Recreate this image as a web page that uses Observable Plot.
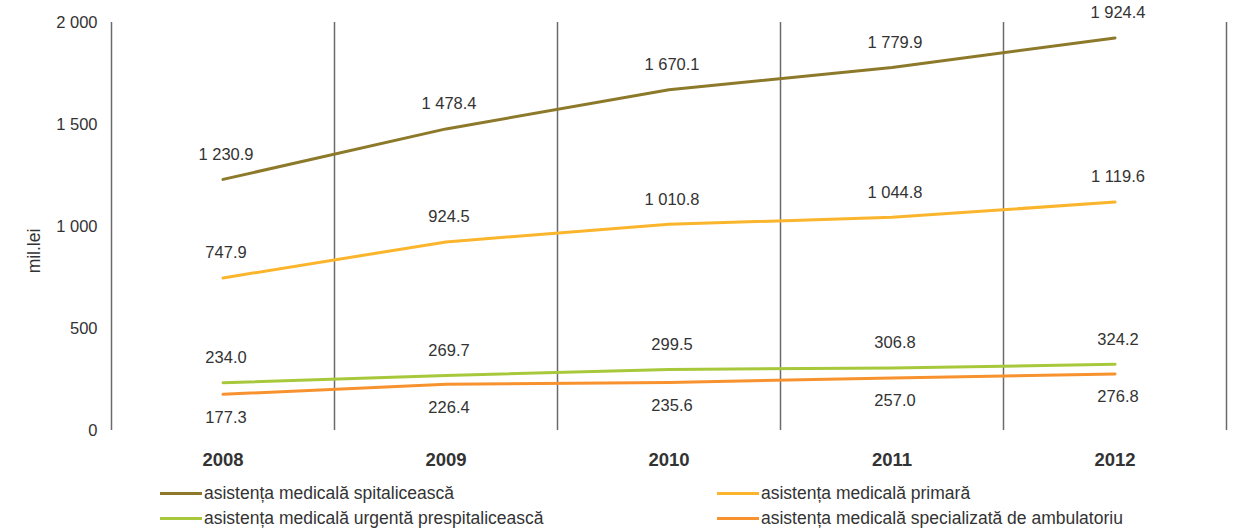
<!DOCTYPE html>
<html>
<head>
<meta charset="utf-8">
<script src="https://cdn.jsdelivr.net/npm/d3@7"></script>
<script src="https://cdn.jsdelivr.net/npm/@observablehq/plot@0.6"></script>
<style>
  body { margin: 0; background: #fff; font-family: "Liberation Sans", Arial, sans-serif; }
  #chart { position: relative; width: 1233px; height: 480px; }
  #ylabel { position: absolute; left: 35px; top: 251px; transform: translate(-50%, -50%) rotate(-90deg); font-size: 17.5px; color: #333; white-space: nowrap; line-height: 1; }
  #legend { position: relative; width: 1233px; height: 49px; font-size: 17.5px; color: #333; }
  .item { position: absolute; display: flex; align-items: center; white-space: nowrap; line-height: 20px; }
  .sw { width: 42px; height: 3px; margin-right: 2px; }
  #chart svg g[aria-label="x-axis tick label"] { font-size: 18.5px; font-weight: bold; }
  #chart svg g[aria-label="y-axis tick label"] { font-size: 16.5px; }
</style>
</head>
<body>
<div id="chart"><span id="ylabel"></span></div>
<div id="legend"></div>
<script>
const years = [2008, 2009, 2010, 2011, 2012];
const seriesNames = [
  "asistența medicală spitalicească",
  "asistența medicală primară",
  "asistența medicală urgentă prespitalicească",
  "asistența medicală specializată de ambulatoriu"
];
const spitaliceasca = [1230.9, 1478.4, 1670.1, 1779.9, 1924.4];
const primara = [747.9, 924.5, 1010.8, 1044.8, 1119.6];
const urgenta = [234.0, 269.7, 299.5, 306.8, 324.2];
const ambulatoriu = [177.3, 226.4, 235.6, 257.0, 276.8];
const colors = ["#8c7a2a", "#fbb52c", "#a8c83c", "#f7922e"];
const labelBelow = [false, false, false, true];
const yTicks = [0, 500, 1000, 1500, 2000];
const yLabel = "mil.lei";
// legend layout: [row, column] per series
const legendSlots = [[0, 0], [0, 1], [1, 0], [1, 1]];

const allSeries = [spitaliceasca, primara, urgenta, ambulatoriu];
const data = [];
allSeries.forEach((vals, i) => vals.forEach((v, j) => data.push({year: years[j], value: v, series: seriesNames[i], below: labelBelow[i]})));
const boundaries = years.map(y => y - 0.5).concat([years[years.length - 1] + 0.5]);

const loc = d3.formatLocale({decimal: ".", thousands: " ", grouping: [3], currency: ["", ""]});
const fmt1 = loc.format(",.1f");
const fmt0 = loc.format(",.0f");

const chart = Plot.plot({
  width: 1233,
  height: 480,
  marginLeft: 111,
  marginRight: 7,
  marginTop: 22,
  marginBottom: 50,
  style: {fontFamily: "Liberation Sans, Arial, sans-serif", color: "#333", background: "#fff", fontSize: "16px"},
  x: {type: "linear", domain: [boundaries[0], boundaries[boundaries.length - 1]], axis: null},
  y: {domain: [0, 2000], axis: null},
  color: {domain: seriesNames, range: colors},
  marks: [
    Plot.ruleX(boundaries, {y1: 0, y2: 2000, stroke: "#6b6b6b", strokeWidth: 1.5}),
    Plot.axisY(yTicks, {tickSize: 0, tickPadding: 14, tickFormat: fmt0, label: null}),
    Plot.axisX(years, {tickSize: 0, tickPadding: 22, tickFormat: d => String(d), label: null}),
    Plot.line(data, {x: "year", y: "value", z: "series", stroke: "series", strokeWidth: 3}),
    Plot.text(data.filter(d => !d.below), {x: "year", y: "value", text: d => fmt1(d.value), dy: -25, dx: 3, fontSize: 16.5, fill: "#333"}),
    Plot.text(data.filter(d => d.below), {x: "year", y: "value", text: d => fmt1(d.value), dy: 23, dx: 3, fontSize: 16.5, fill: "#333"})
  ]
});
document.getElementById("chart").appendChild(chart);
document.getElementById("ylabel").textContent = yLabel;

const legend = document.getElementById("legend");
const colX = [160, 717];
const rowY = [3, 28];
seriesNames.forEach((name, i) => {
  const [r, c] = legendSlots[i];
  const item = document.createElement("div");
  item.className = "item";
  item.style.left = colX[c] + "px";
  item.style.top = rowY[r] + "px";
  item.innerHTML = `<span class="sw" style="background:${colors[i]}"></span><span>${name}</span>`;
  legend.appendChild(item);
});
</script>
</body>
</html>
